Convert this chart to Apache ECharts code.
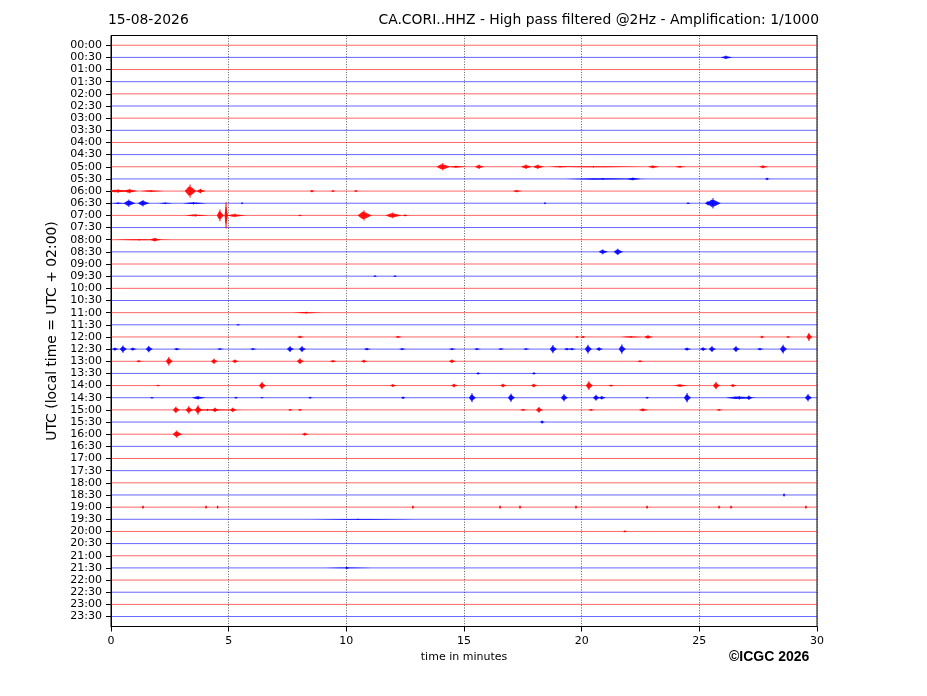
<!DOCTYPE html>
<html>
<head>
<meta charset="utf-8">
<script src="https://cdn.jsdelivr.net/npm/echarts@6/dist/echarts.min.js"></script>
<style>
  html, body { margin: 0; padding: 0; background: #fff; }
  #chart { width: 927px; height: 696px; }
</style>
</head>
<body>
<div id="chart"></div>
<script>
// 每行半小时，共 48 行
var rowLabels = ['00:00','00:30','01:00','01:30','02:00','02:30','03:00','03:30','04:00','04:30',
    '05:00','05:30','06:00','06:30','07:00','07:30','08:00','08:30','09:00','09:30',
    '10:00','10:30','11:00','11:30','12:00','12:30','13:00','13:30','14:00','14:30',
    '15:00','15:30','16:00','16:30','17:00','17:30','18:00','18:30','19:00','19:30',
    '20:00','20:30','21:00','21:30','22:00','22:30','23:00','23:30'];
var rowColors = ['#ff0000', '#0000ff'];
var minuteTicks = [0, 5, 10, 15, 20, 25, 30];

// 事件: [行, 分钟, 振幅(行距单位), 持续(分钟)]
var events = [
    [1, 26.13, 0.12, 0.5],
    // 05:00
    [10, 14.10, 0.25, 0.6], [10, 14.66, 0.08, 0.8], [10, 15.64, 0.15, 0.4], [10, 17.64, 0.15, 0.5],
    [10, 18.14, 0.15, 0.5], [10, 19.08, 0.05, 1.0], [10, 20.5, 0.05, 4.0], [10, 23.03, 0.1, 0.5],
    [10, 24.18, 0.07, 0.5], [10, 27.71, 0.1, 0.4],
    // 05:30
    [11, 20.9, 0.07, 3.5], [11, 22.18, 0.1, 0.6], [11, 27.88, 0.08, 0.2],
    // 06:00
    [12, 0.3, 0.12, 1.2], [12, 0.8, 0.15, 0.6], [12, 1.7, 0.07, 1.0], [12, 3.36, 0.45, 0.5],
    [12, 3.8, 0.15, 0.4], [12, 8.54, 0.08, 0.2], [12, 9.43, 0.06, 0.2], [12, 10.41, 0.06, 0.2],
    [12, 17.25, 0.08, 0.4],
    // 06:30
    [13, 0.3, 0.06, 0.6], [13, 0.76, 0.25, 0.5], [13, 1.36, 0.22, 0.5], [13, 2.3, 0.06, 0.6],
    [13, 3.5, 0.08, 1.0], [13, 5.57, 0.06, 0.1], [13, 18.44, 0.06, 0.1], [13, 24.52, 0.05, 0.2],
    [13, 25.37, 0.15, 0.3], [13, 25.58, 0.35, 0.6],
    // 07:00
    [14, 3.6, 0.08, 1.0], [14, 4.63, 0.4, 0.3], [14, 4.89, 0.9, 0.15], [14, 5.27, 0.12, 0.8],
    [14, 8.03, 0.05, 0.2], [14, 10.75, 0.35, 0.6], [14, 11.98, 0.2, 0.7], [14, 12.5, 0.06, 0.3],
    // 08:00 / 08:30
    [16, 1.2, 0.05, 2.5], [16, 1.87, 0.13, 0.5],
    [17, 20.9, 0.17, 0.4], [17, 21.54, 0.22, 0.4],
    [19, 11.22, 0.05, 0.2], [19, 12.07, 0.05, 0.2],
    [22, 8.3, 0.06, 1.2], [23, 5.4, 0.04, 0.2],
    // 12:00
    [24, 8.03, 0.08, 0.3], [24, 12.2, 0.07, 0.3], [24, 19.8, 0.05, 0.2], [24, 20.06, 0.07, 0.2],
    [24, 22.1, 0.06, 1.0], [24, 22.82, 0.12, 0.4], [24, 27.66, 0.08, 0.2], [24, 28.77, 0.06, 0.2],
    [24, 29.66, 0.28, 0.25],
    // 12:30
    [25, 0.17, 0.1, 0.3], [25, 0.51, 0.25, 0.3], [25, 0.93, 0.1, 0.3], [25, 1.61, 0.22, 0.3],
    [25, 2.8, 0.08, 0.3], [25, 4.63, 0.06, 0.3], [25, 6.03, 0.07, 0.3], [25, 7.61, 0.2, 0.3],
    [25, 8.12, 0.2, 0.3], [25, 10.88, 0.08, 0.3], [25, 12.37, 0.07, 0.3], [25, 14.49, 0.07, 0.3],
    [25, 15.55, 0.07, 0.3], [25, 16.57, 0.06, 0.3], [25, 17.64, 0.06, 0.3], [25, 18.78, 0.28, 0.3],
    [25, 19.38, 0.08, 0.3], [25, 19.59, 0.08, 0.3], [25, 20.27, 0.3, 0.3], [25, 20.74, 0.12, 0.3],
    [25, 21.71, 0.32, 0.3], [25, 24.48, 0.1, 0.3], [25, 25.16, 0.12, 0.3], [25, 25.54, 0.2, 0.3],
    [25, 26.56, 0.2, 0.3], [25, 27.58, 0.08, 0.3], [25, 28.56, 0.3, 0.3],
    // 13:00 / 13:30
    [26, 1.19, 0.07, 0.3], [26, 2.46, 0.3, 0.3], [26, 4.38, 0.18, 0.3], [26, 5.27, 0.12, 0.3],
    [26, 8.03, 0.2, 0.3], [26, 9.43, 0.08, 0.3], [26, 10.75, 0.1, 0.3], [26, 14.49, 0.12, 0.3],
    [26, 22.48, 0.06, 0.3],
    [27, 15.6, 0.07, 0.2], [27, 17.97, 0.07, 0.2],
    // 14:00
    [28, 2.0, 0.05, 0.2], [28, 6.42, 0.25, 0.3], [28, 11.98, 0.1, 0.3], [28, 14.58, 0.12, 0.3],
    [28, 16.66, 0.12, 0.3], [28, 17.97, 0.12, 0.3], [28, 20.31, 0.3, 0.3], [28, 21.25, 0.06, 0.3],
    [28, 24.18, 0.1, 0.6], [28, 25.71, 0.25, 0.3], [28, 26.43, 0.1, 0.3],
    // 14:30
    [29, 1.74, 0.05, 0.2], [29, 3.7, 0.12, 0.6], [29, 5.31, 0.06, 0.2], [29, 6.42, 0.04, 0.2],
    [29, 8.46, 0.06, 0.2], [29, 12.41, 0.08, 0.2], [29, 15.34, 0.3, 0.3], [29, 17.0, 0.28, 0.3],
    [29, 19.25, 0.25, 0.3], [29, 20.61, 0.2, 0.3], [29, 20.86, 0.12, 0.3], [29, 22.78, 0.06, 0.2],
    [29, 24.48, 0.32, 0.3], [29, 26.7, 0.12, 1.3], [29, 27.11, 0.15, 0.3], [29, 29.62, 0.25, 0.3],
    // 15:00
    [30, 4.1, 0.07, 2.8], [30, 2.76, 0.22, 0.3], [30, 3.31, 0.26, 0.3], [30, 3.7, 0.32, 0.3],
    [30, 4.42, 0.15, 0.3], [30, 5.18, 0.15, 0.3], [30, 7.61, 0.06, 0.2], [30, 8.03, 0.06, 0.2],
    [30, 17.51, 0.07, 0.3], [30, 18.19, 0.2, 0.3], [30, 20.4, 0.06, 0.3], [30, 22.61, 0.1, 0.4],
    [30, 25.84, 0.06, 0.3],
    [31, 18.32, 0.1, 0.2],
    [32, 2.8, 0.25, 0.4], [32, 8.24, 0.1, 0.3],
    // 傍晚
    [37, 28.6, 0.1, 0.1],
    [38, 1.36, 0.1, 0.1], [38, 4.04, 0.1, 0.1], [38, 4.53, 0.1, 0.1], [38, 12.83, 0.1, 0.1],
    [38, 16.53, 0.1, 0.1], [38, 17.38, 0.1, 0.1], [38, 19.76, 0.1, 0.1], [38, 22.78, 0.1, 0.1],
    [38, 25.84, 0.1, 0.1], [38, 26.35, 0.1, 0.1], [38, 29.53, 0.1, 0.1],
    [39, 10.5, 0.04, 4.5], [40, 21.84, 0.06, 0.2],
    [43, 10.0, 0.04, 2.0], [43, 10.03, 0.06, 0.2]
];

var FONT = '"DejaVu Sans", sans-serif';
var rowIdx = rowLabels.map(function(l, i){ return i; });

var myChart = echarts.init(document.getElementById('chart'), null, {renderer: 'canvas'});

var option = {
    animation: false,
    backgroundColor: '#fff',
    grid: {
        left: 111, right: 110, top: 35.5, bottom: 69.5,
        show: true, borderColor: '#000', borderWidth: 1, backgroundColor: 'transparent'
    },
    graphic: [
        {type: 'text', left: 108, top: 13, style: {text: '15-08-2026', font: '13.9px ' + FONT, fill: '#000'}},
        {type: 'text', right: 108, top: 13, style: {text: 'CA.CORI..HHZ - High pass filtered @2Hz - Amplification: 1/1000', font: '13.9px ' + FONT, fill: '#000'}},
        {type: 'text', left: 729, top: 650, style: {text: '©ICGC 2026', font: 'bold 14px "Liberation Sans", Arial, sans-serif', fill: '#000'}}
    ],
    xAxis: {
        type: 'value',
        min: 0, max: 30, interval: 5,
        name: 'time in minutes',
        nameLocation: 'middle',
        nameGap: 25,
        nameTextStyle: {fontFamily: FONT, fontSize: 11, color: '#000'},
        axisLine: {show: true, onZero: false, lineStyle: {color: '#000', width: 1}},
        axisTick: {show: true, length: 5, lineStyle: {color: '#000'}},
        axisLabel: {fontFamily: FONT, fontSize: 11, color: '#000', margin: 9,
            customValues: minuteTicks},
        splitLine: {show: true, lineStyle: {color: '#333', width: 0.8, type: [1, 1.6]}}
    },
    yAxis: {
        type: 'value',
        inverse: true,
        min: -0.8, max: 47.82,
        name: 'UTC (local time = UTC + 02:00)',
        nameLocation: 'middle',
        nameGap: 47,
        nameRotate: 90,
        nameTextStyle: {fontFamily: FONT, fontSize: 13.9, color: '#000'},
        axisLine: {show: true, onZero: false, lineStyle: {color: '#000', width: 1}},
        axisTick: {show: true, length: 5, lineStyle: {color: '#000'}, customValues: rowIdx},
        axisLabel: {fontFamily: FONT, fontSize: 11, color: '#000', margin: 9,
            customValues: rowIdx,
            formatter: function(v){ return rowLabels[Math.round(v)] || ''; }},
        splitLine: {show: false}
    },
    series: [
        {
            // 基线
            type: 'custom',
            data: rowIdx,
            renderItem: function(params, api){
                var i = api.value(0);
                var a = api.coord([0, i]);
                var b = api.coord([30, i]);
                return {
                    type: 'line',
                    shape: {x1: a[0], y1: a[1], x2: b[0], y2: b[1]},
                    style: {stroke: rowColors[i % 2], lineWidth: 1, opacity: 0.6}
                };
            },
            silent: true
        },
        {
            // 地震事件
            type: 'custom',
            data: events,
            clip: true,
            renderItem: function(params, api){
                var row = api.value(0), m = api.value(1), amp = api.value(2), d = api.value(3);
                var col = rowColors[row % 2];
                var l = api.coord([m - d * 0.45, row]);
                var r = api.coord([m + d * 0.55, row]);
                var t1 = api.coord([m - d * 0.12, row - amp * 0.85]);
                var t2 = api.coord([m + d * 0.12, row - amp * 0.7]);
                var b1 = api.coord([m - d * 0.12, row + amp * 0.85]);
                var b2 = api.coord([m + d * 0.12, row + amp * 0.7]);
                var st = api.coord([m, row - amp * 1.2]);
                var sb = api.coord([m, row + amp * 1.2]);
                return {
                    type: 'group',
                    children: [
                        {type: 'polygon', shape: {points: [l, t1, t2, r, b2, b1]}, style: {fill: col, opacity: 0.9}},
                        {type: 'line', shape: {x1: st[0], y1: st[1], x2: sb[0], y2: sb[1]},
                            style: {stroke: col, lineWidth: 1}}
                    ]
                };
            },
            silent: true
        }
    ]
};

myChart.setOption(option);
</script>
</body>
</html>
